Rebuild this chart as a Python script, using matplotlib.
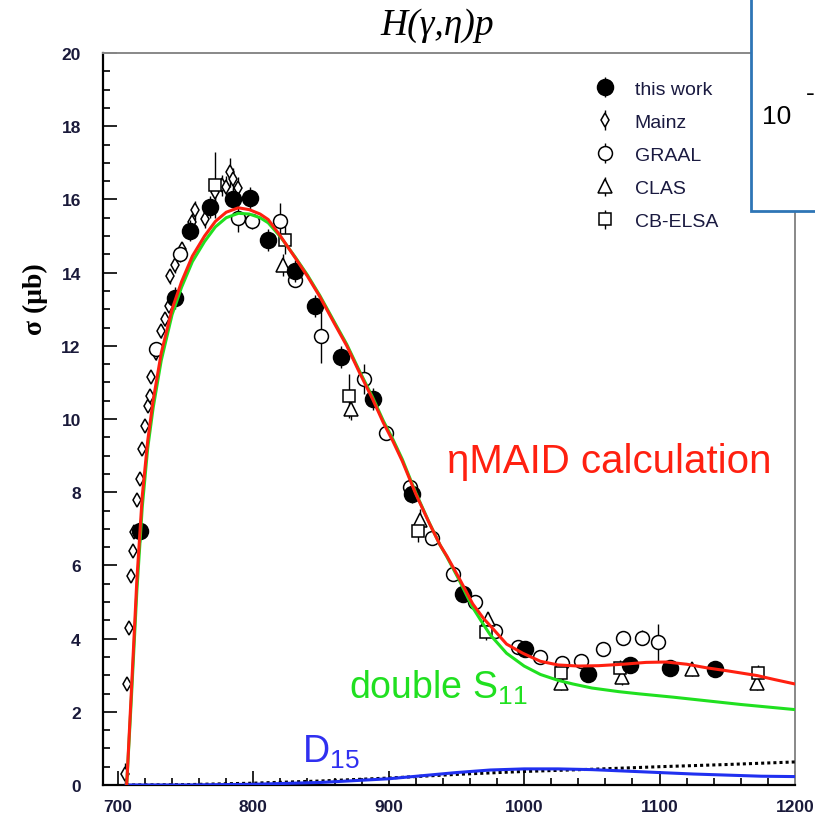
import matplotlib
matplotlib.use('Agg')
import matplotlib.pyplot as plt
from matplotlib.patches import Rectangle
from matplotlib.ticker import MultipleLocator

# %% data (photon energy in MeV, sigma in microbarn)
# this work
tw_x = [716, 742, 753, 768, 785, 797.5, 811, 831, 845.5, 865, 888.5, 917, 955, 1000.5, 1047, 1078, 1107.5, 1141]
tw_y = [6.95, 13.3, 15.15, 15.78, 16.0, 16.05, 14.9, 14.05, 13.1, 11.7, 10.55, 7.95, 5.22, 3.72, 3.03, 3.28, 3.2, 3.17]
tw_e = [0.3, 0.3, 0.3, 0.3, 0.3, 0.3, 0.3, 0.3, 0.3, 0.3, 0.3, 0.25, 0.2, 0.2, 0.2, 0.2, 0.2, 0.2]

# Mainz
mz_x = [705, 706.5, 708, 709.5, 711, 712, 714.3, 716, 717.5, 720, 722, 723.6, 724.8, 728.5, 732, 734.7,
        737.7, 738.4, 742, 747.5, 754.4, 757, 764, 771.6, 776.6, 780, 782.7, 785, 789]
mz_y = [0.3, 2.76, 4.3, 5.7, 6.4, 6.9, 7.8, 8.35, 9.18, 9.8, 10.36, 10.64, 11.14, 11.8, 12.4, 12.73,
        13.1, 13.9, 14.2, 14.64, 15.37, 15.7, 15.46, 16.2, 16.38, 16.35, 16.74, 16.56, 16.3]
mz_e = [0.3, 0.15, 0.15, 0.15, 0.15, 0.15, 0.15, 0.15, 0.15, 0.15, 0.15, 0.15, 0.15, 0.2, 0.2, 0.2,
        0.2, 0.2, 0.2, 0.2, 0.25, 0.25, 0.25, 0.3, 0.3, 0.3, 0.4, 0.3, 0.3]

# GRAAL
gr_x = [728.5, 745.8, 789, 799, 820, 831, 850, 882, 898, 915.7, 931.7, 947.6, 963.7, 978.4, 995.6,
        1011.7, 1027.6, 1042, 1058, 1073, 1086.7, 1099]
gr_y = [11.9, 14.5, 15.5, 15.4, 15.4, 13.8, 12.28, 11.09, 9.63, 8.13, 6.75, 5.77, 5.0, 4.22, 3.76,
        3.49, 3.33, 3.4, 3.72, 4.03, 4.03, 3.9]
gr_e = [0.2, 0.2, 0.4, 0.2, 0.5, 0.2, 0.75, 0.4, 0.2, 0.2, 0.2, 0.15, 0.15, 0.15, 0.15,
        0.15, 0.15, 0.15, 0.15, 0.15, 0.2, 0.5]

# CLAS
cl_x = [822, 872.5, 923, 973.5, 1027.5, 1072, 1123.7, 1171.7]
cl_y = [14.2, 10.27, 7.25, 4.54, 2.8, 2.94, 3.17, 2.8]
cl_e = [0.3, 0.3, 0.3, 0.2, 0.2, 0.2, 0.2, 0.2]

# CB-ELSA
cb_x = [772, 823.5, 871, 921.8, 972, 1027.5, 1070.7, 1173]
cb_y = [16.4, 14.9, 10.64, 6.95, 4.17, 3.07, 3.21, 3.07]
cb_e = [0.9, 0.4, 0.6, 0.3, 0.2, 0.2, 0.2, 0.2]

# eta-MAID full calculation
maid_x = [706.5, 710, 714, 718, 722, 726, 732, 740, 747, 755, 764, 772, 780, 789, 797, 805, 811, 820,
          831, 840, 849, 860, 869, 878, 888, 896, 903, 910, 920, 930, 938, 943, 952, 962, 970, 975,
          987, 999, 1012, 1025, 1040, 1055, 1073, 1090, 1105, 1120, 1135, 1150, 1172, 1185, 1200]
maid_y = [0.0, 2.6, 5.6, 7.9, 9.4, 10.5, 11.8, 13.0, 13.75, 14.45, 15.0, 15.4, 15.65, 15.77, 15.72,
          15.6, 15.45, 15.0, 14.4, 13.9, 13.35, 12.6, 12.0, 11.3, 10.55, 9.9, 9.4, 8.85, 7.95, 7.15,
          6.55, 6.25, 5.65, 4.95, 4.55, 4.35, 3.85, 3.6, 3.38, 3.28, 3.25, 3.26, 3.3, 3.35, 3.36,
          3.3, 3.2, 3.12, 2.99, 2.88, 2.76]

# double S11 only
s11_x = [706.5, 710, 714, 718, 722, 726, 732, 740, 747, 755, 764, 772, 780, 789, 797, 805, 811, 820,
         831, 840, 849, 860, 869, 878, 888, 896, 903, 910, 920, 930, 938, 943, 952, 962, 970, 975,
         987, 1000, 1012, 1025, 1036, 1050, 1070, 1085, 1110, 1135, 1160, 1180, 1200]
s11_y = [0.0, 2.4, 5.3, 7.6, 9.2, 10.3, 11.6, 12.85, 13.6, 14.3, 14.85, 15.25, 15.5, 15.62, 15.6,
         15.5, 15.36, 14.98, 14.42, 13.93, 13.38, 12.64, 12.04, 11.34, 10.6, 9.95, 9.45, 8.9, 7.98, 7.16,
         6.55, 6.23, 5.6, 4.85, 4.38, 4.1, 3.6, 3.25, 3.02, 2.86, 2.76, 2.65, 2.55, 2.49, 2.4, 2.3,
         2.2, 2.13, 2.06]

# D15 contribution
d15_x = [706, 750, 800, 850, 900, 950, 975, 1000, 1025, 1050, 1075, 1100, 1125, 1150, 1175, 1200]
d15_y = [0.0, 0.0, 0.02, 0.07, 0.17, 0.34, 0.41, 0.44, 0.44, 0.42, 0.38, 0.34, 0.3, 0.27, 0.24, 0.23]

# dotted background curve
bg_x = [706, 750, 800, 850, 900, 950, 1000, 1050, 1100, 1150, 1200]
bg_y = [0.0, 0.01, 0.05, 0.11, 0.19, 0.29, 0.37, 0.43, 0.5, 0.56, 0.63]

# %% figure
W, H = 815, 820
fig = plt.figure(figsize=(W / 100, H / 100), dpi=100)
ax = fig.add_axes([103 / W, 34 / H, 692 / W, 732 / H])

kw = dict(mec='black', ecolor='black', elinewidth=1.0, capsize=0, ls='none', mew=1.1)
h_mz = ax.errorbar(mz_x, mz_y, yerr=mz_e, fmt='d', ms=7, mfc='white', zorder=3, **kw)
h_gr = ax.errorbar(gr_x, gr_y, yerr=gr_e, fmt='o', ms=10, mfc='white', zorder=3, **kw)
h_cl = ax.errorbar(cl_x, cl_y, yerr=cl_e, fmt='^', ms=10, mfc='white', zorder=3, **kw)
h_cb = ax.errorbar(cb_x, cb_y, yerr=cb_e, fmt='s', ms=8.5, mfc='white', zorder=3, **kw)
h_tw = ax.errorbar(tw_x, tw_y, yerr=tw_e, fmt='o', ms=11.5, mfc='black', zorder=4, **kw)

ax.plot(bg_x, bg_y, color='black', ls=(0, (1.0, 1.0)), lw=2.2, zorder=5)
ax.plot(d15_x, d15_y, color='#2030f0', lw=2.2, zorder=6)
ax.plot(s11_x, s11_y, color='#20e020', lw=2.2, zorder=6)
ax.plot(maid_x, maid_y, color='#ff2010', lw=2.2, zorder=7)

ax.set_xlim(689, 1200)
ax.set_ylim(0, 20)
ax.xaxis.set_major_locator(MultipleLocator(100))
ax.xaxis.set_minor_locator(MultipleLocator(20))
ax.yaxis.set_major_locator(MultipleLocator(2))
ax.yaxis.set_minor_locator(MultipleLocator(0.5))
ax.tick_params(which='both', direction='in', top=False, right=False, width=1.2)
ax.tick_params(which='major', length=10, labelsize=12.5)
ax.tick_params(axis='x', which='major', pad=10)
ax.tick_params(axis='y', which='major', pad=16)
ax.tick_params(which='minor', length=5)
for lab in ax.get_xticklabels() + ax.get_yticklabels():
    lab.set_fontweight('bold')
    lab.set_color('#1a1a3a')
    lab.set_family('Liberation Sans')

for s in ['left', 'bottom']:
    ax.spines[s].set_linewidth(1.6)
for s in ['top', 'right']:
    ax.spines[s].set_color('#888888')
    ax.spines[s].set_linewidth(1.4)

ax.set_ylabel('σ (μb)', family='Liberation Serif', fontweight='bold', fontsize=20)
ax.yaxis.set_label_coords(-0.08, 0.665)

fig.text(437 / W, 1 - 26 / H, 'H(γ,η)p', family='Liberation Serif', style='italic',
         fontsize=27, ha='center', va='center')

ax.legend([h_tw, h_mz, h_gr, h_cl, h_cb], ['this work', 'Mainz', 'GRAAL', 'CLAS', 'CB-ELSA'],
          loc='upper left', bbox_to_anchor=(586 / W, 1 - 81 / H), bbox_transform=fig.transFigure,
          frameon=False, prop={'family': 'Liberation Sans', 'size': 14}, labelcolor='#1a1a40',
          labelspacing=0.8, handlelength=2.0, handletextpad=0.5, borderpad=0, borderaxespad=0)

ax.text(943, 8.85, 'ηMAID calculation', color='#ff2010', fontsize=29,
        family='Liberation Sans', va='center')
ax.text(871, 2.68, 'double S$_{\\mathregular{11}}$', color='#20e020', fontsize=27,
        family='Liberation Sans', va='center')
ax.text(836, 0.93, 'D$_{\\mathregular{15}}$', color='#3030f0', fontsize=27,
        family='Liberation Sans', va='center')

# overlapping box from another slide element
fig.add_artist(Rectangle((751 / W, 608 / H), 0.2, 0.3, transform=fig.transFigure,
                         facecolor='white', edgecolor='#2e75b6', lw=2, zorder=10))
fig.text(777 / W, 1 - 117 / H, '10', fontsize=19, family='Liberation Sans',
         ha='center', va='center', zorder=11)
fig.text(810 / W, 1 - 94 / H, '-', fontsize=19, family='Liberation Sans',
         ha='center', va='center', zorder=11)

fig.savefig('out.png', dpi=100)
